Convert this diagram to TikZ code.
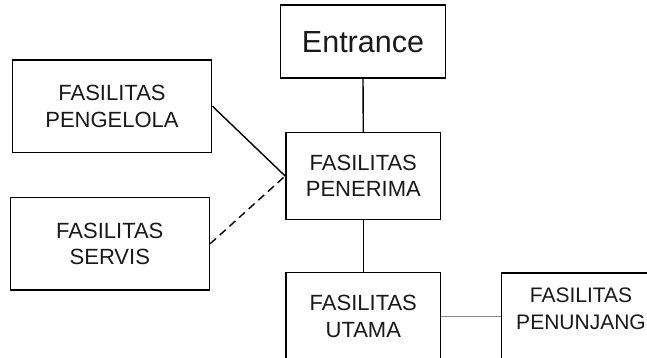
\documentclass[tikz,border=0pt]{standalone}
\usepackage{fontspec}
\setmainfont{Liberation Sans}
\begin{document}
\begin{tikzpicture}[x=1pt,y=-1pt,
  box/.style={draw=black, line width=1.6pt, rectangle, inner sep=0pt, align=center,
    font=\fontsize{22}{26.5}\selectfont, text=black!90},
  boxtext/.style={inner sep=0pt, align=center, font=\fontsize{21}{26.5}\selectfont, text=black!90},
  link/.style={line width=1.4pt, black},
  thinlink/.style={line width=0.7pt, black!45}]
\clip (0,0) rectangle (647,358);
\fill[white] (0,0) rectangle (647,358);
\node[box, minimum width=165pt, minimum height=73pt, font=\fontsize{30.5}{34}\selectfont] (entrance) at (363,41.7) {Entrance};
\node[box, minimum width=199.3pt, minimum height=92.3pt] (pengelola) at (112,106.2) {FASILITAS\\PENGELOLA};
\node[box, minimum width=154.7pt, minimum height=86.6pt] (penerima) at (363.3,176) {FASILITAS\\PENERIMA};
\node[box, minimum width=199pt, minimum height=92.3pt] (servis) at (109.8,243.8) {FASILITAS\\SERVIS};
\node[box, minimum width=154.7pt, minimum height=88pt] (utama) at (363.3,316.5) {FASILITAS\\UTAMA};
\node[box, minimum width=160pt, minimum height=100pt] (penunjang) at (581.3,323) {};
\node[boxtext] (penunjangtxt) at (581,309) {FASILITAS\\PENUNJANG};
\draw[link] (entrance.south) -- (penerima.north);
\draw[link] (penerima.south) -- (utama.north);
\draw[link] (pengelola.east) -- (penerima.west);
\draw[link, dash pattern=on 8pt off 5pt] (servis.east) -- (penerima.west);
\draw[thinlink] (utama.east) -- (utama.east -| penunjang.west);
\end{tikzpicture}
\end{document}
